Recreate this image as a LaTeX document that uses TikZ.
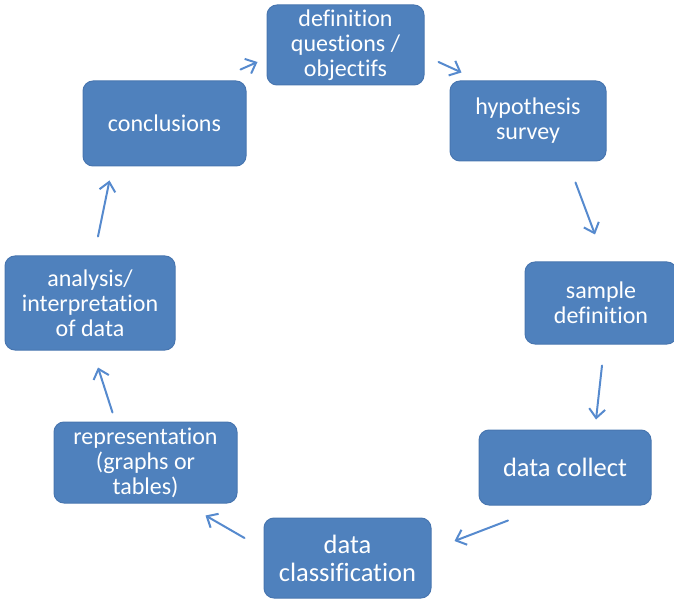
\documentclass[tikz,border=0pt]{standalone}
\usepackage{fontspec}
\setmainfont{Carlito}[RawFeature={-liga;-clig}]
\usepackage{xcolor}
\usetikzlibrary{arrows.meta}

\definecolor{boxblue}{RGB}{79,129,189}
\definecolor{edgeblue}{RGB}{72,118,176}
\definecolor{arrblue}{RGB}{86,138,206}

\begin{document}
\begin{tikzpicture}[x=1pt, y=-1pt,
  step box/.style={draw=edgeblue, line width=1pt, fill=boxblue, rounded corners=10pt, align=center, text=white, inner sep=0pt, font=\fontsize{24}{25}\selectfont},
  big box/.style={step box, font=\fontsize{26.5}{28}\selectfont},
  arr/.style={-{Straight Barb[length=9pt, width=16pt, line width=2pt]}, line width=2pt, arrblue, line cap=round}
]
\useasboundingbox (0,0) rectangle (674,601);
\node[step box, minimum width=157pt, minimum height=80pt] (defn) at (345.5,45) {definition\\questions /\\objectifs};
\node[step box, minimum width=156pt, minimum height=80pt] (hyp) at (528,121) {hypothesis\\survey};
\node[step box, minimum width=152pt, minimum height=82pt] (sample) at (601,303) {sample\\definition};
\node[big box, minimum width=172pt, minimum height=75pt] (collect) at (565,467.5) {data collect};
\node[big box, minimum width=167pt, minimum height=80pt] (classif) at (347.5,558) {data\\classification};
\node[step box, minimum width=183pt, minimum height=81pt] (repr) at (145.5,462.5) {representation\\(graphs or\\tables)};
\node[step box, minimum width=170pt, minimum height=94pt] (analysis) at (90,303) {analysis/\\interpretation\\of data};
\node[step box, minimum width=163pt, minimum height=85pt] (concl) at (164.5,123.5) {conclusions};
% cycle arrows
\draw[arr] ([shift={(-6,-11)}]concl.north east) -- ([shift={(-9,17)}]defn.west);
\draw[arr] ([shift={(14,17)}]defn.east) -- ([shift={(12,-8)}]hyp.north west);
\draw[arr] ([shift={(-31,21)}]hyp.south east) -- ([shift={(-6,-27)}]sample.north);
\draw[arr] ([shift={(1,21)}]sample.south) -- ([shift={(31,-10)}]collect.north);
\draw[arr] ([shift={(-57,15)}]collect.south) -- ([shift={(23,-17)}]classif.east);
\draw[arr] ([shift={(-19,-20)}]classif.west) -- ([shift={(-32,12)}]repr.south east);
\draw[arr] ([shift={(-33,-9)}]repr.north) -- ([shift={(8,17)}]analysis.south);
\draw[arr] ([shift={(8,-19)}]analysis.north) -- ([shift={(27,14)}]concl.south west);
\end{tikzpicture}
\end{document}
